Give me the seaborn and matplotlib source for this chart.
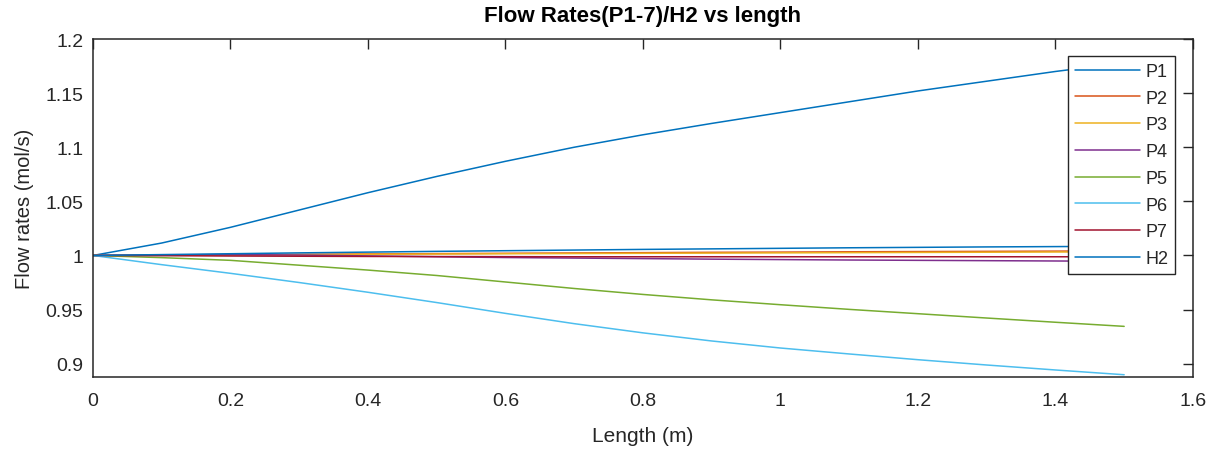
import numpy as np
import pandas as pd
import matplotlib
matplotlib.use("Agg")
import matplotlib.pyplot as plt
import seaborn as sns

# Axial positions along the reactor (m)
length = [0.0, 0.1, 0.2, 0.3, 0.4, 0.5, 0.6, 0.7, 0.8, 0.9, 1.0, 1.1, 1.2, 1.3, 1.4, 1.5]

# Normalised molar flow rates (mol/s)
p1 = [1.000, 1.0115, 1.026, 1.042, 1.058, 1.073, 1.087, 1.100, 1.1115, 1.122, 1.132, 1.142, 1.152, 1.161, 1.170, 1.178]
p2 = [1.000, 1.0003, 1.0007, 1.0010, 1.0014, 1.0017, 1.0020, 1.0023, 1.0026, 1.0029, 1.0031, 1.0034, 1.0036, 1.0038, 1.0040, 1.0042]
p3 = [1.000, 1.0002, 1.0005, 1.0008, 1.0011, 1.0013, 1.0016, 1.0018, 1.0020, 1.0022, 1.0024, 1.0026, 1.0028, 1.0030, 1.0032, 1.0033]
p4 = [1.000, 1.0005, 1.0008, 1.0004, 0.9996, 0.9988, 0.9981, 0.9976, 0.9971, 0.9966, 0.9962, 0.9958, 0.9955, 0.9952, 0.9949, 0.9946]
p5 = [1.000, 0.998, 0.9955, 0.991, 0.9865, 0.9815, 0.9755, 0.9695, 0.964, 0.959, 0.9545, 0.9502, 0.9462, 0.9422, 0.9383, 0.9345]
p6 = [1.000, 0.9915, 0.9835, 0.975, 0.966, 0.9565, 0.9465, 0.937, 0.9285, 0.921, 0.9145, 0.909, 0.9037, 0.8988, 0.8942, 0.8898]
p7 = [1.000, 0.9998, 0.9995, 0.9993, 0.9991, 0.9990, 0.9989, 0.9988, 0.9988, 0.9988, 0.9988, 0.9988, 0.9988, 0.9988, 0.9988, 0.9988]
h2 = [1.000, 1.0008, 1.0016, 1.0024, 1.0031, 1.0038, 1.0044, 1.0050, 1.0056, 1.0061, 1.0066, 1.0071, 1.0075, 1.0079, 1.0082, 1.0085]

species = ["P1", "P2", "P3", "P4", "P5", "P6", "P7", "H2"]
series = [p1, p2, p3, p4, p5, p6, p7, h2]
colors = ["#0072BD", "#D95319", "#EDB120", "#7E2F8E", "#77AC30", "#4DBEEE", "#A2142F", "#0072BD"]

x_ticks = [0, 0.2, 0.4, 0.6, 0.8, 1.0, 1.2, 1.4, 1.6]
x_tick_labels = ["0", "0.2", "0.4", "0.6", "0.8", "1", "1.2", "1.4", "1.6"]
y_ticks = [0.9, 0.95, 1.0, 1.05, 1.1, 1.15, 1.2]
y_tick_labels = ["0.9", "0.95", "1", "1.05", "1.1", "1.15", "1.2"]

df = pd.DataFrame({
    "Length": np.tile(length, len(species)),
    "Flow": np.concatenate(series),
    "Species": np.repeat(species, len(length)),
})

sns.set_style("white")
plt.rcParams["font.family"] = ["Liberation Sans", "DejaVu Sans"]
ink = "#262626"

fig = plt.figure(figsize=(12.17, 4.52), dpi=100)
ax = fig.add_axes([0.0764, 0.1644, 0.9038, 0.7471])

for name, col in zip(species, colors):
    sub = df[df["Species"] == name]
    sns.lineplot(data=sub, x="Length", y="Flow", color=col, linewidth=1.1,
                 label=name, ax=ax, estimator=None, sort=False)

ax.set_xlim(0, 1.6)
ax.set_ylim(0.888, 1.2)
ax.set_xticks(x_ticks)
ax.set_xticklabels(x_tick_labels)
ax.set_yticks(y_ticks)
ax.set_yticklabels(y_tick_labels)

ax.tick_params(axis="both", direction="in", length=7, width=1.0, color=ink,
               labelsize=14, labelcolor=ink, top=True, right=True)
ax.tick_params(axis="x", pad=11)
ax.tick_params(axis="y", pad=7)
for sp in ax.spines.values():
    sp.set_visible(True)
    sp.set_color(ink)
    sp.set_linewidth(1.1)

ax.set_xlabel("Length (m)", fontsize=15, color=ink, labelpad=12)
ax.set_ylabel("Flow rates (mol/s)", fontsize=14.5, color=ink, labelpad=8)
ax.set_title("Flow Rates(P1-7)/H2 vs length", fontsize=16, fontweight="bold",
             color="black", pad=13)

leg = ax.legend(loc="upper right", bbox_to_anchor=(0.9836, 0.9497),
                borderaxespad=0, fontsize=13, frameon=True, fancybox=False,
                framealpha=1, edgecolor=ink, handlelength=3.6,
                handletextpad=0.3, labelspacing=0.54, borderpad=0.38)
leg.get_frame().set_linewidth(1.0)
for t in leg.get_texts():
    t.set_color(ink)

fig.savefig("out.png", dpi=100)
